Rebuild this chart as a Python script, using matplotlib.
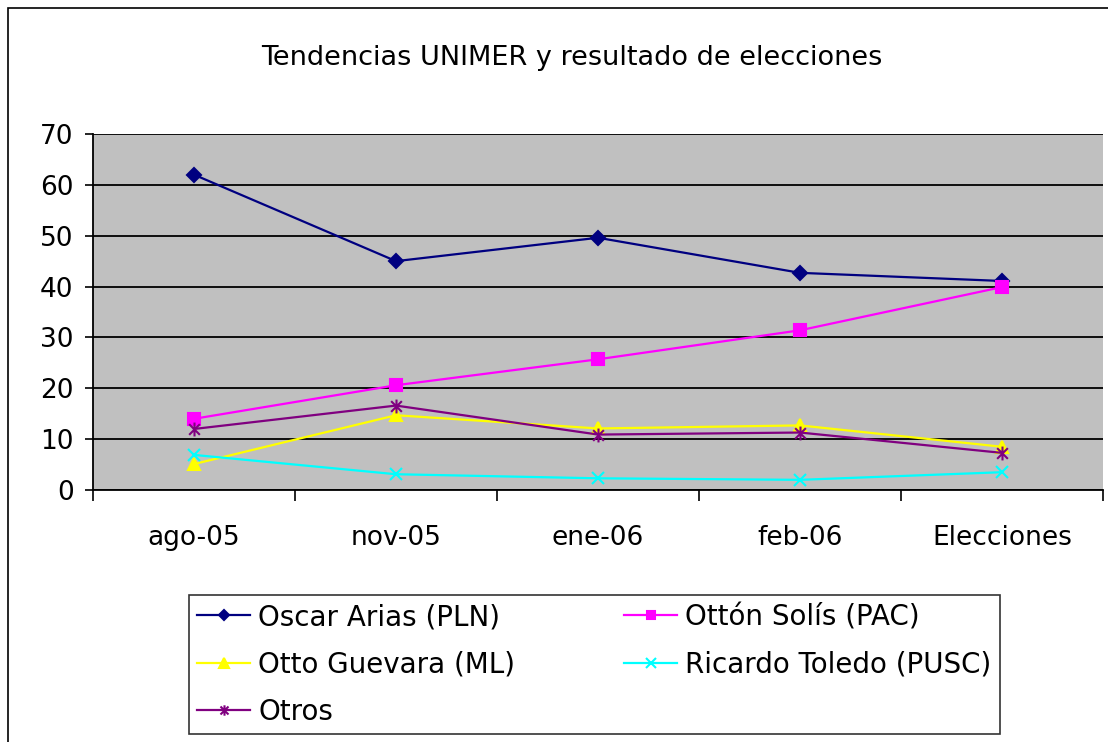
import matplotlib.pyplot as plt
from matplotlib.path import Path
from matplotlib.patches import Rectangle

# ===================== DATOS =====================
fechas = ['ago-05', 'nov-05', 'ene-06', 'feb-06', 'Elecciones']
oscar_arias = [62.0, 45.0, 49.6, 42.7, 41.1]
otton_solis = [14.0, 20.6, 25.7, 31.4, 39.9]
otto_guevara = [5.1, 14.7, 12.1, 12.7, 8.5]
ricardo_toledo = [6.9, 3.1, 2.3, 2.0, 3.5]
otros = [12.0, 16.6, 10.9, 11.3, 7.3]

# marcador "estrella" estilo Excel: X con linea vertical
estrella = Path([(-1, -1), (1, 1), (-1, 1), (1, -1), (0, -1.3), (0, 1.3)],
                [Path.MOVETO, Path.LINETO, Path.MOVETO, Path.LINETO, Path.MOVETO, Path.LINETO])

fig = plt.figure(figsize=(11.08, 7.42), dpi=100)
fig.patches.append(Rectangle((8 / 1108, -0.1), 1.2, 1 - 8 / 742 + 0.1, transform=fig.transFigure,
                             fill=False, edgecolor='black', linewidth=1.2))

ax = fig.add_axes([93 / 1108, 1 - 490 / 742, 1010 / 1108, 356 / 742])
ax.set_facecolor('#C0C0C0')
x = list(range(len(fechas)))

series = [
    (oscar_arias, 'Oscar Arias (PLN)', '#000080', 'D', 7),
    (otton_solis, 'Ottón Solís (PAC)', '#FF00FF', 's', 8),
    (otto_guevara, 'Otto Guevara (ML)', '#FFFF00', '^', 9),
    (ricardo_toledo, 'Ricardo Toledo (PUSC)', '#00FFFF', 'x', 9),
    (otros, 'Otros', '#800080', estrella, 10),
]
lineas = {}
for valores, nombre, color, marcador, tam in series:
    (l,) = ax.plot(x, valores, color=color, marker=marcador, markersize=tam, linewidth=1.6,
                   markeredgewidth=1.5, label=nombre, zorder=3)
    lineas[nombre] = l

ax.set_xlim(-0.5, len(fechas) - 0.5)
ax.set_ylim(0, 70)
ax.set_yticks(range(0, 71, 10))
ax.yaxis.grid(True, color='black', linewidth=1.3)
ax.set_axisbelow(True)
ax.set_xticks([i - 0.5 for i in range(len(fechas) + 1)])
ax.set_xticklabels([])
ax.set_xticks(x, minor=True)
ax.set_xticklabels(fechas, minor=True, fontsize=19)
ax.tick_params(axis='x', which='minor', length=0, pad=25)
ax.tick_params(axis='x', which='major', length=8, width=1.2, direction='out')
ax.tick_params(axis='y', length=6, width=1.2, labelsize=19, pad=8)
for lado in ['top', 'right']:
    ax.spines[lado].set_visible(False)
for lado in ['left', 'bottom']:
    ax.spines[lado].set_linewidth(1.3)

fig.text(572 / 1108, 1 - 58 / 742, 'Tendencias UNIMER y resultado de elecciones',
         ha='center', va='center', fontsize=19.5)

orden = ['Oscar Arias (PLN)', 'Otto Guevara (ML)', 'Otros', 'Ottón Solís (PAC)', 'Ricardo Toledo (PUSC)']
leg = fig.legend([lineas[n] for n in orden], orden, ncol=2, fontsize=20,
                 bbox_to_anchor=(189 / 1108, 1 - 738 / 742, 811 / 1108, 147 / 742),
                 loc='center', mode='expand', frameon=True, fancybox=False,
                 edgecolor='black', handlelength=1.9, handletextpad=0.3, markerscale=0.75,
                 labelspacing=0.7, borderaxespad=0, borderpad=0.3)
leg.get_frame().set_linewidth(1.2)

fig.savefig('out.png', dpi=100)
